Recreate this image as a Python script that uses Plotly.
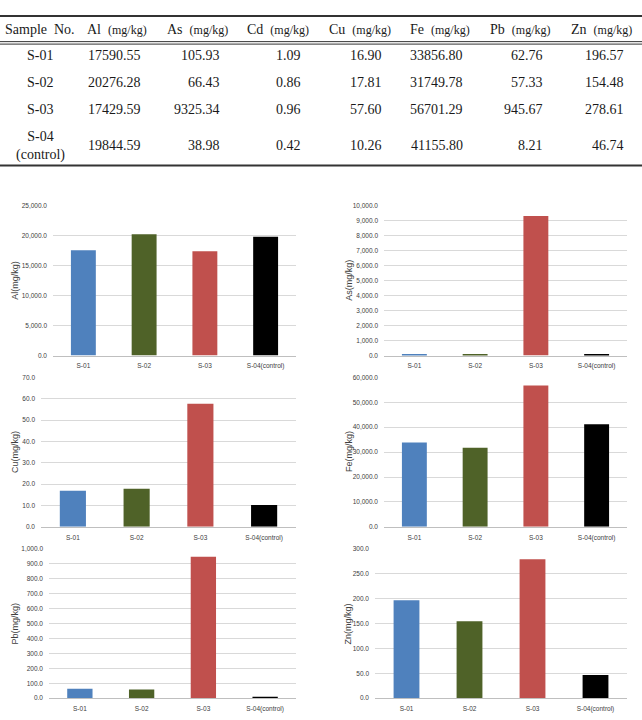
import plotly.graph_objects as go

W, H = 642, 720

samples = ["S-01", "S-02", "S-03", "S-04(control)"]
table_samples = ["S-01", "S-02", "S-03", "S-04<br>(control)"]
elements = ["Al", "As", "Cd", "Cu", "Fe", "Pb", "Zn"]
al = [17590.55, 20276.28, 17429.59, 19844.59]
as_ = [105.93, 66.43, 9325.34, 38.98]
cd = [1.09, 0.86, 0.96, 0.42]
cu = [16.90, 17.81, 57.60, 10.26]
fe = [33856.80, 31749.78, 56701.29, 41155.80]
pb = [62.76, 57.33, 945.67, 8.21]
zn = [196.57, 154.48, 278.61, 46.74]
table_cols = [al, as_, cd, cu, fe, pb, zn]

bar_colors = ["#4F81BD", "#4F6228", "#C0504D", "#000000"]

# chart specs: name, values, y max, tick step, pixel box (x0, x1, ytop, ybottom), title x
charts = [
    ("Al", al, 25000, 5000, (53, 296, 204, 355), 15),
    ("As", as_, 10000, 1000, (384, 627, 204, 355), 349),
    ("Cu", cu, 70, 10, (41, 296, 377, 528), 15),
    ("Fe", fe, 60000, 10000, (384, 627, 377, 528), 349),
    ("Pb", pb, 1000, 100, (49, 296, 550, 701), 15),
    ("Zn", zn, 300, 50, (375, 627, 550, 701), 348),
]


def px(x):
    return x / W


def py(y):
    return 1 - y / H


fig = go.Figure()
annotations = []
shapes = []

tick_font = dict(family="Liberation Sans Narrow, Liberation Sans, Arial", size=6.5, color="#404040")

for i, (name, vals, ymax, step, (x0, x1, yt, yb), tx) in enumerate(charts):
    k = "" if i == 0 else str(i + 1)
    fig.add_trace(go.Bar(
        x=samples, y=vals, marker=dict(color=bar_colors, line=dict(width=0)),
        xaxis="x" + k, yaxis="y" + k, showlegend=False, hoverinfo="x+y"))
    fig.layout["xaxis" + k] = dict(
        domain=[px(x0), px(x1)], anchor="y" + k, type="category",
        showline=True, linecolor="#BFBFBF", linewidth=1, showgrid=False,
        ticks="", tickfont=tick_font, ticklabelstandoff=4, fixedrange=True)
    fig.layout["yaxis" + k] = dict(
        domain=[py(yb), py(yt)], anchor="x" + k, range=[0, ymax],
        dtick=step, tick0=0, tickformat=",.1f", showgrid=True,
        gridcolor="#D9D9D9", gridwidth=1, zeroline=False, showline=False,
        ticks="", tickfont=tick_font, ticklabelstandoff=5, fixedrange=True)
    annotations.append(dict(
        x=px(tx), y=py((yt + yb) / 2), xref="paper", yref="paper",
        text=f"{name}(mg/kg)", textangle=-90, showarrow=False,
        font=dict(family="Liberation Sans, Arial", size=9, color="#404040"),
        xanchor="center", yanchor="middle"))

# ---- table ----
serif = dict(family="Times New Roman, Liberation Serif, serif", size=14, color="#1a1a1a")
header_cx = [117, 197, 278, 360, 440, 520, 601]
value_right = [143, 222, 303, 384, 465, 545, 626]
row_y = [52, 79, 107, 143]
sample_y = [52, 79, 107, 143]

annotations.append(dict(x=px(40), y=py(26), xref="paper", yref="paper",
                        text="Sample  No.", showarrow=False, font=serif,
                        xanchor="center", yanchor="middle"))
for j, el in enumerate(elements):
    annotations.append(dict(
        x=px(header_cx[j]), y=py(26), xref="paper", yref="paper",
        text=f"{el}  <span style='font-size:12px'>(mg/kg)</span>",
        showarrow=False, font=serif, xanchor="center", yanchor="middle"))

for r, s in enumerate(table_samples):
    annotations.append(dict(x=px(40), y=py(sample_y[r]), xref="paper", yref="paper",
                            text=s, showarrow=False, font=serif,
                            xanchor="center", yanchor="middle"))
    for j, col in enumerate(table_cols):
        annotations.append(dict(
            x=px(value_right[j]), y=py(row_y[r]), xref="paper", yref="paper",
            text=f"{col[r]:.2f}", showarrow=False, font=serif,
            xanchor="right", yanchor="middle"))

rule_color = "#333333"
for (y, wdt) in [(12, 2), (38, 1), (40.5, 1), (163, 2)]:
    shapes.append(dict(type="line", xref="paper", yref="paper",
                       x0=0, x1=1, y0=py(y), y1=py(y),
                       line=dict(color=rule_color, width=wdt)))

fig.update_layout(
    width=W, height=H, margin=dict(l=0, r=0, t=0, b=0),
    paper_bgcolor="white", plot_bgcolor="white",
    bargap=0.59, annotations=annotations, shapes=shapes,
    font=dict(family="Liberation Sans, Arial"),
)

fig.write_html("out.html", config={"displayModeBar": False})
